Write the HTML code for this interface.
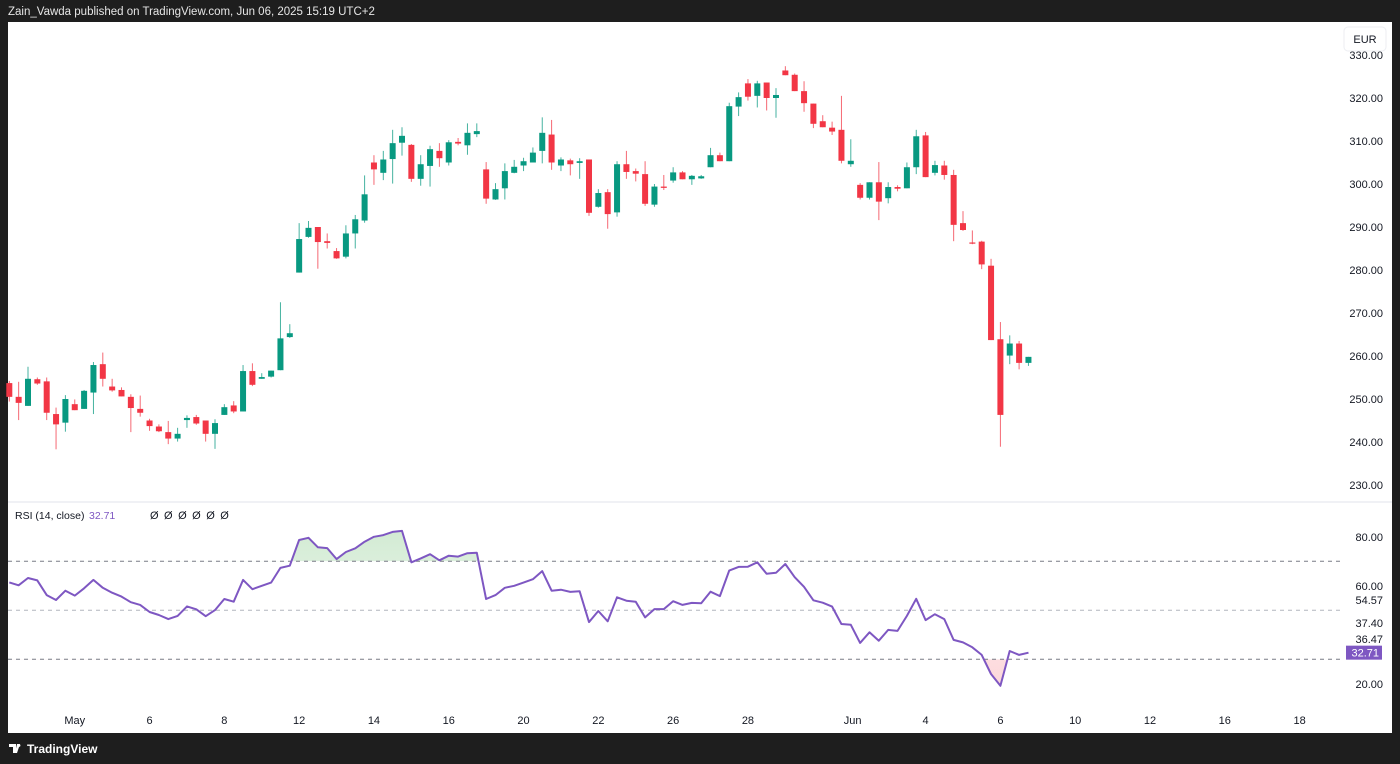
<!DOCTYPE html>
<html><head><meta charset="utf-8"><style>
body{margin:0;background:#1e1e1e;width:1400px;height:764px;overflow:hidden;font-family:"Liberation Sans",sans-serif}
svg{display:block}
text{font-family:"Liberation Sans",sans-serif}
</style></head><body>
<svg id="chart" width="1400" height="764" xmlns="http://www.w3.org/2000/svg">
<rect x="0" y="0" width="1400" height="764" fill="#1e1e1e"/>
<text x="8" y="15" fill="#e6e6e6" font-size="11.5">Zain_Vawda published on TradingView.com, Jun 06, 2025 15:19 UTC+2</text>
<rect x="8" y="22" width="1384" height="711" fill="#ffffff"/>
<line x1="8" y1="502" x2="1392" y2="502" stroke="#e0e3eb" stroke-width="1"/>
<rect x="1344" y="27" width="42" height="24" rx="4" fill="#fff" stroke="#eceef2"/>
<text x="1365" y="43" font-size="11" fill="#131722" text-anchor="middle">EUR</text>
<g id="price-axis"></g>
<g id="candles"></g>
<g id="rsi"></g>
<g id="xaxis"></g>
<text x="15" y="519" font-size="10.5" fill="#131722">RSI (14, close)</text>
<text x="89" y="519" font-size="10.5" fill="#7e57c2">32.71</text>
<text x="150" y="519" font-size="11" fill="#131722" letter-spacing="5.5">ØØØØØØ</text>
<g>
<path d="M9 744h7v9h-3v-6h-4z M17 744h3l-3 9h-2z" fill="#ffffff"/>
<circle cx="19" cy="745.5" r="1.4" fill="#fff"/>
<text x="27" y="753" font-size="12" font-weight="bold" fill="#ffffff">TradingView</text>
</g>
</svg>
<script>
const opens=[253.7,250.5,248.4,254.6,254.1,246.5,244.5,248.8,247.7,251.5,258.1,252.9,252.1,250.5,247.7,245.0,243.6,242.3,240.8,245.1,245.8,245.0,241.9,246.3,248.5,247.1,256.5,254.7,255.2,256.7,264.4,279.4,287.7,290.0,286.7,284.4,283.1,288.5,291.5,305.0,302.6,305.8,309.6,309.1,301.2,304.2,307.7,305.0,309.8,309.0,311.6,303.4,296.4,299.0,302.6,304.3,305.0,307.7,311.5,304.3,305.5,304.9,305.7,294.7,298.1,293.4,304.6,303.0,302.3,295.2,299.4,300.8,302.7,301.1,301.3,303.9,306.7,305.3,318.0,323.4,320.5,323.6,320.0,326.4,325.4,321.6,318.7,314.6,313.1,312.6,304.6,299.8,296.8,300.4,296.7,299.3,299.0,303.9,311.3,302.6,304.3,302.1,290.9,286.4,286.6,281.0,263.9,260.1,262.9,258.4];
const highs=[254.2,254.0,257.5,255.0,255.0,248.0,250.9,249.9,252.1,258.6,260.8,254.7,252.7,251.1,250.8,245.4,244.1,244.9,243.3,246.2,246.3,245.0,245.3,248.8,249.5,257.9,258.3,256.0,256.6,272.5,267.4,290.9,291.4,290.0,288.5,285.1,290.4,292.8,302.0,306.7,307.7,312.6,313.2,309.3,306.7,308.9,309.5,310.2,310.7,314.1,314.1,305.1,300.2,304.8,305.6,306.1,308.5,315.5,314.9,306.2,305.9,306.0,305.7,298.8,298.8,305.3,307.7,303.6,305.3,300.0,302.1,303.9,303.0,302.1,302.1,308.4,307.3,318.9,321.3,324.4,324.0,323.6,322.3,327.4,325.7,323.9,318.7,316.0,314.5,320.5,310.4,300.2,300.4,305.1,300.4,299.7,305.0,312.6,312.1,305.4,305.4,303.3,293.7,289.2,286.8,282.6,267.9,264.8,263.5,259.8];
const lows=[249.4,245.1,248.4,253.3,245.1,238.3,242.4,247.4,247.7,246.5,252.9,251.7,250.6,242.3,245.9,242.6,242.3,239.5,240.1,243.3,244.0,240.1,238.4,246.3,246.7,247.1,253.0,254.7,255.0,256.7,264.2,279.4,287.5,280.3,285.0,282.6,282.7,285.0,291.0,299.8,300.9,300.1,306.6,300.5,299.6,299.4,304.0,304.3,309.0,306.8,310.9,295.4,296.3,296.4,302.5,303.0,305.0,304.8,303.3,303.0,302.0,301.2,292.6,294.5,289.6,292.4,301.2,300.6,294.9,294.7,298.6,300.3,301.1,299.8,301.2,303.9,305.3,305.3,315.8,319.4,317.8,317.1,315.4,325.3,321.6,316.8,313.0,313.2,311.4,304.8,304.0,296.4,296.4,291.6,295.5,298.3,299.0,302.3,301.6,302.0,301.0,286.7,289.1,286.0,280.2,263.7,238.9,258.1,256.9,257.7];
const closes=[250.5,249.1,254.7,253.6,246.8,244.1,250.0,247.4,251.9,257.9,254.7,252.0,250.6,247.9,246.8,243.7,242.5,240.8,241.9,245.6,244.3,241.9,244.4,248.1,247.1,256.5,253.3,255.1,256.6,264.1,265.3,287.2,289.8,286.5,286.3,282.7,288.5,291.8,297.6,303.4,305.7,309.5,311.2,301.2,304.6,308.1,306.0,309.7,309.4,311.9,312.3,296.6,298.8,303.0,304.0,305.3,307.3,311.9,305.0,305.7,304.6,305.3,293.3,297.9,293.0,304.6,302.8,302.4,295.4,299.4,299.1,302.7,301.1,301.9,301.8,306.7,305.3,318.1,320.2,320.3,323.4,320.0,320.7,325.3,321.6,318.8,314.0,313.2,312.2,305.4,305.4,296.8,300.4,295.9,299.3,298.9,303.9,311.1,301.6,304.4,302.1,290.5,289.3,286.2,281.3,263.7,246.3,262.9,258.4,259.8];
const rsiValues=[61.4,60.2,63.2,62.2,56.2,54.2,58.0,56.0,59.0,62.4,59.2,57.2,55.6,53.3,52.2,49.3,48.1,46.4,47.7,51.6,50.4,47.6,50.1,54.6,53.5,62.4,58.6,60.0,61.3,67.3,68.2,78.7,79.6,75.7,75.4,70.9,73.8,75.3,78.0,80.0,80.7,82.0,82.4,69.6,71.2,72.9,70.4,72.3,71.9,73.3,73.5,54.6,56.2,59.2,60.0,61.3,62.7,66.0,58.0,58.4,57.5,57.8,45.2,49.7,45.5,55.3,53.9,53.5,47.1,50.5,50.5,53.7,52.2,53.0,52.9,57.6,55.8,66.2,67.7,67.8,69.6,64.9,65.3,68.9,63.5,59.6,54.1,53.1,51.5,44.4,44.1,36.7,41.0,37.6,42.0,41.6,47.7,54.7,46.0,48.4,46.4,37.9,36.9,34.9,31.8,24.0,19.2,33.4,31.8,32.71];
const priceTicks=[330,320,310,300,290,280,270,260,250,240,230];
const rsiTicks=["80.00","60.00","54.57","37.40","36.47","20.00"];
const rsiTickVals=[80,60,54.57,37.40,36.47,20];
const rsiLevels=[70,50,30];
const dateLabels=["May","6","8","12","14","16","20","22","26","28","Jun","4","6","10","12","16","18"];
const dateIdx=[7,15,23,31,39,47,55,63,71,79,90.2,98,106,114,122,130,138];

const NS="http://www.w3.org/2000/svg";
function mk(tag,attrs,parent){const e=document.createElementNS(NS,tag);for(const k in attrs)e.setAttribute(k,attrs[k]);parent.appendChild(e);return e;}
const xOf=i=>9.3+i*9.35;
const yP=p=>55+(330-p)*4.3;
const yR=v=>561.3+(70-v)*2.45;
const G="#089981",R="#f23645";

const pa=document.getElementById('price-axis');
priceTicks.forEach(p=>{const t=mk('text',{x:1383,y:yP(p)+4,'font-size':11,fill:'#131722','text-anchor':'end'},pa);t.textContent=p.toFixed(2);

});

const cg=document.getElementById('candles');
for(let i=0;i<opens.length;i++){
  const up=closes[i]>=opens[i];const col=up?G:R;const x=xOf(i);
  const w=mk('line',{x1:x,x2:x,y1:yP(highs[i]),y2:yP(lows[i]),stroke:col,'stroke-width':1,opacity:0.75},cg);
  
  
  const top=yP(Math.max(opens[i],closes[i])),bot=yP(Math.min(opens[i],closes[i]));
  const b=mk('rect',{x:x-3,y:top,width:6,height:Math.max(1.2,bot-top),fill:col},cg);
  
  
}

const rg=document.getElementById('rsi');
const defs=mk('defs',{},rg);
const gg=mk('linearGradient',{id:'gG',x1:0,y1:0,x2:0,y2:1},defs);
mk('stop',{offset:'0','stop-color':'#4caf50','stop-opacity':0.25},gg);mk('stop',{offset:'1','stop-color':'#4caf50','stop-opacity':0.02},gg);
const gr=mk('linearGradient',{id:'gR',x1:0,y1:1,x2:0,y2:0},defs);
mk('stop',{offset:'0','stop-color':'#f23645','stop-opacity':0.2},gr);mk('stop',{offset:'1','stop-color':'#f23645','stop-opacity':0.02},gr);
const ct=mk('clipPath',{id:'cTop'},defs);mk('rect',{x:0,y:0,width:1400,height:yR(70)},ct);
const cb=mk('clipPath',{id:'cBot'},defs);mk('rect',{x:0,y:yR(30),width:1400,height:200},cb);
let pts=rsiValues.map((v,i)=>xOf(i).toFixed(1)+','+yR(v).toFixed(1));
const n=rsiValues.length;
const fillG=mk('polygon',{points:pts.join(' ')+' '+xOf(n-1)+','+yR(70)+' '+xOf(0)+','+yR(70),fill:'url(#gG)','clip-path':'url(#cTop)'},rg);


const fillR=mk('polygon',{points:pts.join(' ')+' '+xOf(n-1)+','+yR(30)+' '+xOf(0)+','+yR(30),fill:'url(#gR)','clip-path':'url(#cBot)'},rg);


rsiLevels.forEach(l=>{const ln=mk('line',{x1:8,x2:1342,y1:yR(l),y2:yR(l),stroke:l===50?'#b2b5be':'#787b86','stroke-width':1,'stroke-dasharray':'4 4'},rg);

});
const pl=mk('polyline',{points:pts.join(' '),fill:'none',stroke:'#7e57c2','stroke-width':2,'stroke-linejoin':'round'},rg);


// marker labels are stacked by the price scale to avoid overlap
let prevY=-100;
rsiTickVals.forEach((v,k)=>{let y=yR(v)+4;
  if(rsiTicks[k]==="37.40")y=627;
  if(rsiTicks[k]==="36.47")y=643;
  if(y<prevY+14&&rsiTicks[k]!=="20.00")y=prevY+14;
  prevY=y;
  const t=mk('text',{x:1383,y:y,'font-size':11,fill:'#131722','text-anchor':'end'},rg);t.textContent=rsiTicks[k];
  
  });
const last=rsiValues[n-1];
const tag=mk('rect',{x:1346,y:yR(last)-7,width:36,height:14,fill:'#7e57c2'},rg);


const tt=mk('text',{x:1379,y:yR(last)+4,'font-size':11,fill:'#fff','text-anchor':'end'},rg);tt.textContent=last.toFixed(2);



const xa=document.getElementById('xaxis');
dateLabels.forEach((d,k)=>{const t=mk('text',{x:xOf(dateIdx[k]),y:724,'font-size':11,fill:'#131722','text-anchor':'middle'},xa);t.textContent=d;

});
</script>
</body></html>
